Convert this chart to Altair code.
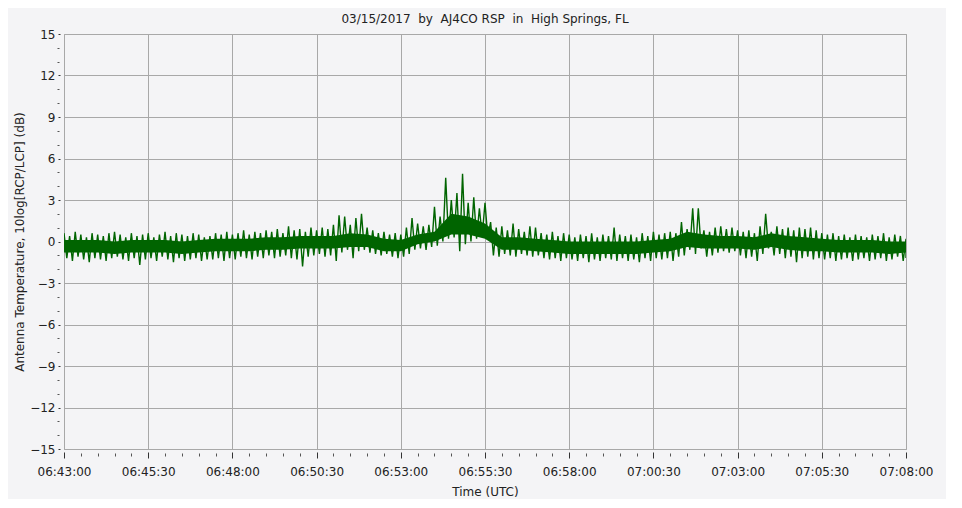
import altair as alt
import pandas as pd

# Spike envelope, sampled every 10 s from 06:43:00 UTC
hi = [0.6,0.4,0.7,0.5,0.3,0.6,0.5,0.4,0.6,0.7,0.5,0.3,0.6,0.4,0.5,0.6,0.3,0.5,0.7,0.4,
      0.6,0.5,0.4,0.6,0.5,0.3,0.4,0.6,0.5,0.7,0.5,0.6,0.8,0.5,0.7,0.6,0.8,0.7,0.9,0.6,
      1.1,0.8,0.9,0.7,1.0,0.8,1.0,0.9,1.2,1.9,1.8,1.2,1.7,2.0,1.0,0.8,0.6,0.7,0.5,0.6,
      0.5,1.0,1.7,1.3,1.1,1.2,2.5,1.8,4.6,3.0,3.5,4.9,2.8,3.2,2.4,2.8,1.4,1.0,1.1,0.8,
      1.3,0.9,0.7,1.1,1.0,0.6,0.5,0.7,0.4,0.6,0.5,0.3,0.5,0.4,0.6,0.3,0.5,0.4,1.0,0.5,
      0.4,0.5,0.3,0.6,0.4,0.7,0.5,0.6,0.7,0.6,1.4,0.9,2.4,2.4,0.8,0.7,1.0,1.1,0.9,1.0,
      0.8,0.7,0.8,0.6,1.1,2.0,0.7,1.1,0.9,1.0,0.8,1.0,0.9,1.0,0.8,0.6,0.5,0.6,0.4,0.5,
      0.3,0.5,0.4,0.3,0.5,0.4,0.6,0.3,0.5,0.4,0.2]
lo = [-1.2,-1.4,-1.1,-1.3,-1.5,-1.2,-1.3,-1.4,-1.2,-1.1,-1.3,-1.4,-1.2,-1.7,-1.3,-1.2,-1.4,-1.1,-1.3,-1.5,
      -1.2,-1.4,-1.3,-1.2,-1.4,-1.3,-1.3,-1.2,-1.4,-1.2,-1.3,-1.1,-1.2,-1.3,-1.1,-1.2,-1.0,-1.2,-1.1,-1.0,
      -1.2,-1.3,-1.8,-1.1,-1.0,-0.9,-1.1,-1.0,-1.4,-0.8,-0.6,-1.2,-0.7,-0.6,-0.8,-0.9,-1.0,-0.9,-1.1,-1.2,
      -1.1,-0.9,-0.6,-0.5,-0.6,-0.4,-0.3,0.0,0.2,0.3,-0.7,-0.2,0.0,0.2,0.4,0.3,-1.0,-1.1,-0.9,-1.0,
      -1.1,-0.9,-1.0,-1.1,-1.0,-1.2,-1.3,-1.2,-1.4,-1.2,-1.3,-1.4,-1.2,-1.5,-1.3,-1.4,-1.2,-1.3,-1.4,-1.2,
      -1.4,-1.3,-1.5,-1.2,-1.4,-1.2,-1.3,-1.2,-1.4,-1.1,-1.0,-0.6,-0.9,-0.5,-1.1,-1.0,-0.8,-0.7,-0.8,-0.7,
      -1.0,-1.2,-1.1,-1.4,-0.9,-0.5,-1.0,-0.9,-1.2,-1.1,-1.5,-1.2,-1.1,-1.3,-1.2,-1.3,-1.2,-1.4,-1.3,-1.2,
      -1.4,-1.3,-1.2,-1.4,-1.3,-1.2,-1.4,-1.3,-1.1,-1.4,-1.2]

# Dense core of the trace, sampled every 30 s
ctop = [0.1,0.1,0.1,0.0,0.1,0.1,0.1,0.0,0.1,0.2,
        0.2,0.2,0.3,0.3,0.4,0.4,0.4,0.6,0.5,0.2,
        0.1,0.5,0.7,2.0,1.8,1.3,0.3,0.3,0.2,0.1,
        0.0,0.0,0.0,0.0,0.0,0.1,0.2,0.7,0.5,0.4,
        0.4,0.3,0.6,0.4,0.3,0.2,0.1,0.1,0.1,0.0,0.0]
cbot = [-0.8,-0.8,-0.8,-0.9,-0.8,-0.8,-0.8,-0.9,-0.8,-0.7,
        -0.7,-0.7,-0.6,-0.6,-0.5,-0.5,-0.5,-0.4,-0.4,-0.7,
        -0.7,-0.2,0.0,0.5,0.5,0.2,-0.6,-0.6,-0.7,-0.8,
        -0.9,-0.9,-0.9,-0.9,-0.9,-0.8,-0.7,-0.4,-0.5,-0.5,
        -0.5,-0.6,-0.4,-0.6,-0.7,-0.7,-0.8,-0.8,-0.8,-0.9,-0.8]

x_major = [0, 150, 300, 450, 600, 750, 900, 1050, 1200, 1350, 1500]
x_labels = ["06:43:00", "06:45:30", "06:48:00", "06:50:30", "06:53:00", "06:55:30",
            "06:58:00", "07:00:30", "07:03:00", "07:05:30", "07:08:00"]
x_minor = [s for s in range(0, 1501, 30) if s % 150 != 0]
y_major = [-15, -12, -9, -6, -3, 0, 3, 6, 9, 12, 15]
y_minor = [v for v in range(-15, 16) if v % 3 != 0]

title = "03/15/2017\u00a0 by\u00a0 AJ4CO RSP\u00a0 in\u00a0 High Springs, FL"

rows = []
for i in range(len(hi)):
    rows.append({"t": 10 * i, "v": hi[i]})
    if i < len(lo) - 1:
        rows.append({"t": 10 * i + 5, "v": lo[i]})
    else:
        rows.append({"t": 10 * i, "v": lo[i]})
df = pd.DataFrame(rows)
core = pd.DataFrame({"t": [30 * i for i in range(len(ctop))], "top": ctop, "bot": cbot})

FONT = "DejaVu Sans"
GREEN = "#006400"
label_expr = "[" + ",".join("'%s'" % s for s in x_labels) + "][round(datum.value/150)]"

xs = alt.Scale(domain=[0, 1500], nice=False, zero=False)
ys = alt.Scale(domain=[-15, 15], nice=False, zero=False)

main = alt.Chart(df).mark_line(color=GREEN, strokeWidth=1.4, clip=True).encode(
    x=alt.X("t:Q", scale=xs, axis=alt.Axis(
        orient="bottom", values=x_major, labelExpr=label_expr, title="Time (UTC)",
        grid=True, gridColor="#A8A8A8", gridWidth=1, gridOpacity=1,
        domain=False, offset=3, tickSize=6, tickColor="#333", tickWidth=1,
        labelPadding=8, labelFlush=False, labelOverlap=False,
        labelFont=FONT, labelFontSize=12, labelColor="#222",
        titleFont=FONT, titleFontSize=12, titleFontWeight="normal", titleColor="#222",
        titleX=421, titleY=39, titleBaseline="middle", titleAnchor="middle")),
    y=alt.Y("v:Q", scale=ys, axis=alt.Axis(
        orient="left", values=y_major, title="Antenna Temperature, 10log[RCP/LCP] (dB)",
        grid=True, gridColor="#A8A8A8", gridWidth=1, gridOpacity=1,
        domain=False, offset=4, tickSize=2, tickColor="#333", tickWidth=1,
        labelPadding=3, labelFlush=False, labelOverlap=False,
        labelFont=FONT, labelFontSize=12, labelColor="#222",
        titleFont=FONT, titleFontSize=12, titleFontWeight="normal", titleColor="#222",
        titleX=-41, titleY=207.5, titleAngle=-90, titleBaseline="middle", titleAlign="center")),
)

band = alt.Chart(core).mark_area(color=GREEN, opacity=1, clip=True).encode(
    x=alt.X("t:Q", scale=xs, axis=None),
    y=alt.Y("top:Q", scale=ys, axis=None),
    y2="bot:Q",
)

minor = alt.Chart(df).mark_point(opacity=0, size=0).encode(
    x=alt.X("t:Q", scale=xs, axis=alt.Axis(
        orient="bottom", values=x_minor, labels=False, title=None, grid=False,
        domain=False, offset=4, tickSize=3, tickColor="#555", tickWidth=1)),
    y=alt.Y("v:Q", scale=ys, axis=alt.Axis(
        orient="left", values=y_minor, labels=False, title=None, grid=False,
        domain=False, offset=5, tickSize=2, tickColor="#555", tickWidth=1)),
)

chart = alt.layer(main, band, minor).resolve_axis(x="independent", y="independent").properties(
    width=842, height=415,
    padding={"left": 56, "top": 26, "right": 40, "bottom": 50},
    autosize=alt.AutoSizeParams(type="none"),
    title=alt.TitleParams(title, font=FONT, fontSize=12, fontWeight="normal",
                          color="#222", anchor="middle", offset=2),
    background="#F4F4F6",
).configure_view(fill="#F4F4F6", stroke="#A0A0A0", strokeWidth=1)

chart.save("out.html", embed_options={"renderer": "svg", "actions": False})
